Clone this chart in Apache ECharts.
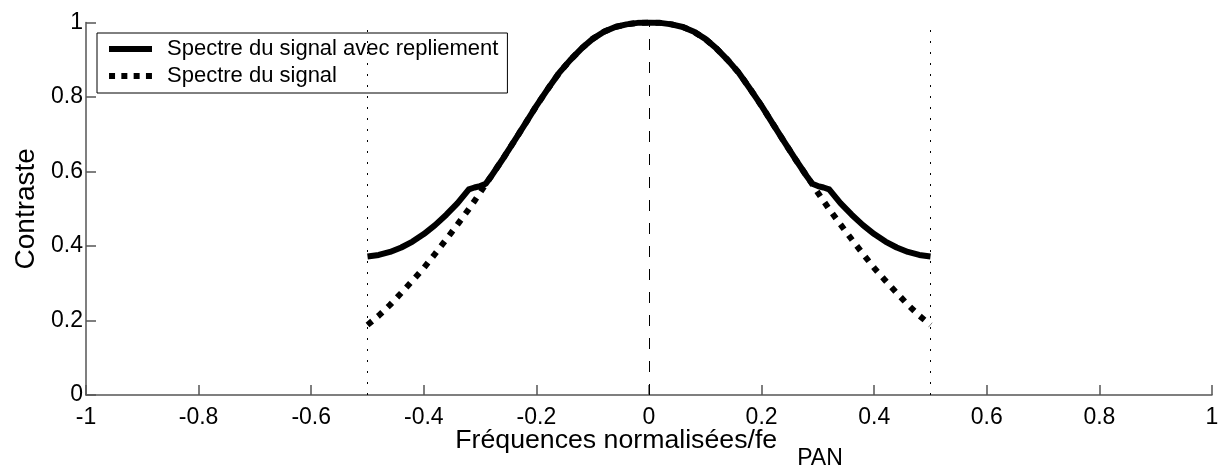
<!DOCTYPE html>
<html>
<head>
<meta charset="utf-8">
<script src="https://cdn.jsdelivr.net/npm/echarts@6/dist/echarts.min.js"></script>
<style>
html,body{margin:0;padding:0;background:#fff;}
#chart{width:1227px;height:469px;}
</style>
</head>
<body>
<div id="chart"></div>
<script>
// Normalised frequency samples
var freqs = [-0.50,-0.48,-0.46,-0.44,-0.42,-0.40,-0.38,-0.36,-0.34,-0.32,-0.31,-0.30,-0.29,-0.28,-0.26,-0.24,-0.22,-0.20,-0.18,-0.16,-0.14,-0.12,-0.10,-0.08,-0.06,-0.04,-0.02,0.00,
             0.02,0.04,0.06,0.08,0.10,0.12,0.14,0.16,0.18,0.20,0.22,0.24,0.26,0.28,0.29,0.30,0.31,0.32,0.34,0.36,0.38,0.40,0.42,0.44,0.46,0.48,0.50];
// Spectre du signal avec repliement (solid)
var aliasedSpectrum = [0.372,0.376,0.384,0.396,0.412,0.432,0.456,0.484,0.515,0.552,0.557,0.561,0.567,0.588,0.633,0.680,0.728,0.776,0.821,0.864,0.899,0.930,0.956,0.975,0.988,0.995,0.999,1.000,
                       0.999,0.995,0.988,0.975,0.956,0.930,0.899,0.864,0.821,0.776,0.728,0.680,0.633,0.588,0.567,0.561,0.557,0.552,0.515,0.484,0.456,0.432,0.412,0.396,0.384,0.376,0.372];
// Spectre du signal (dotted)
var signalSpectrum = [0.188,0.213,0.242,0.274,0.307,0.341,0.379,0.418,0.458,0.499,0.521,0.543,0.566,0.588,0.633,0.680,0.728,0.776,0.821,0.864,0.899,0.930,0.956,0.975,0.988,0.995,0.999,1.000,
                      0.999,0.995,0.988,0.975,0.956,0.930,0.899,0.864,0.821,0.776,0.728,0.680,0.633,0.588,0.566,0.543,0.521,0.499,0.458,0.418,0.379,0.341,0.307,0.274,0.242,0.213,0.188];
// Reference vertical lines
var nyquistLines = [-0.5, 0.5];
var centreLine = [0];
var seriesNames = ['Spectre du signal avec repliement', 'Spectre du signal'];
var xTitle = 'Fréquences normalisées/fe';
var xTitleSub = 'PAN';
var yTitle = 'Contraste';

var FONT = '"Liberation Sans", Arial, sans-serif';

function pairs(xs, ys) {
  return xs.map(function (x, i) { return [x, ys[i]]; });
}

var chart = echarts.init(document.getElementById('chart'), null, {renderer: 'canvas'});
var axisLineStyle = {color: '#555', width: 1.5};

chart.setOption({
  animation: false,
  backgroundColor: '#fff',
  grid: {left: 86, right: 15, top: 22.5, height: 372.5, containLabel: false, outerBoundsMode: 'none'},
  legend: {
    orient: 'vertical',
    left: 97, top: 33,
    padding: [5, 9, 6, 12],
    itemGap: 5,
    itemWidth: 43, itemHeight: 6,
    borderColor: '#000', borderWidth: 1,
    backgroundColor: '#fff',
    data: [
      {name: seriesNames[0], icon: 'path://M0,0H43V6H0Z'},
      {name: seriesNames[1], icon: 'path://M0,0h6v6h-6z M12.3,0h6v6h-6z M24.6,0h6v6h-6z M36.9,0h6v6h-6z'}
    ],
    itemStyle: {color: '#000'},
    textStyle: {fontFamily: FONT, fontSize: 22, color: '#000', padding: [0, 0, 0, 10]}
  },
  xAxis: {
    type: 'value', min: -1, max: 1, interval: 0.2,
    name: '{a|' + xTitle + '}{b|' + xTitleSub + '}',
    nameLocation: 'middle', nameGap: 32, nameMoveOverlap: false,
    nameTextStyle: {
      fontFamily: FONT, fontSize: 26.7, color: '#000',
      rich: {
        a: {fontFamily: FONT, fontSize: 26.7, color: '#000', verticalAlign: 'top'},
        b: {fontFamily: FONT, fontSize: 23, color: '#000', verticalAlign: 'bottom', padding: [20, 0, 0, 20]}
      }
    },
    axisLine: {show: true, onZero: false, lineStyle: axisLineStyle},
    axisTick: {show: true, inside: true, length: 10, lineStyle: axisLineStyle},
    axisLabel: {fontFamily: FONT, fontSize: 23, color: '#000', margin: 11},
    splitLine: {show: false}
  },
  yAxis: {
    type: 'value', min: 0, max: 1, interval: 0.2,
    name: yTitle, nameLocation: 'middle', nameGap: 46, nameRotate: 90, nameMoveOverlap: false,
    nameTextStyle: {fontFamily: FONT, fontSize: 28, color: '#000'},
    axisLine: {show: true, onZero: false, lineStyle: axisLineStyle},
    axisTick: {show: true, inside: true, length: 10, lineStyle: axisLineStyle},
    axisLabel: {fontFamily: FONT, fontSize: 23, color: '#000', margin: 3},
    splitLine: {show: false}
  },
  series: [
    {
      name: seriesNames[1],
      type: 'line', z: 3,
      data: pairs(freqs, signalSpectrum),
      showSymbol: false, symbol: 'none',
      lineStyle: {color: '#000', width: 6, type: [6, 7.5], cap: 'butt'},
      itemStyle: {color: '#000'},
      markLine: {
        silent: true, symbol: 'none', label: {show: false},
        lineStyle: {color: '#000', width: 1, type: [2, 9]},
        data: nyquistLines.map(function (v) { return {xAxis: v}; })
      }
    },
    {
      name: seriesNames[0],
      type: 'line', z: 4,
      data: pairs(freqs, aliasedSpectrum),
      showSymbol: false, symbol: 'none',
      lineStyle: {color: '#000', width: 6, type: 'solid', join: 'round'},
      itemStyle: {color: '#000'},
      markLine: {
        silent: true, symbol: 'none', label: {show: false},
        lineStyle: {color: '#000', width: 1, type: [11, 12]},
        data: centreLine.map(function (v) { return {xAxis: v}; })
      }
    }
  ]
});
</script>
</body>
</html>
